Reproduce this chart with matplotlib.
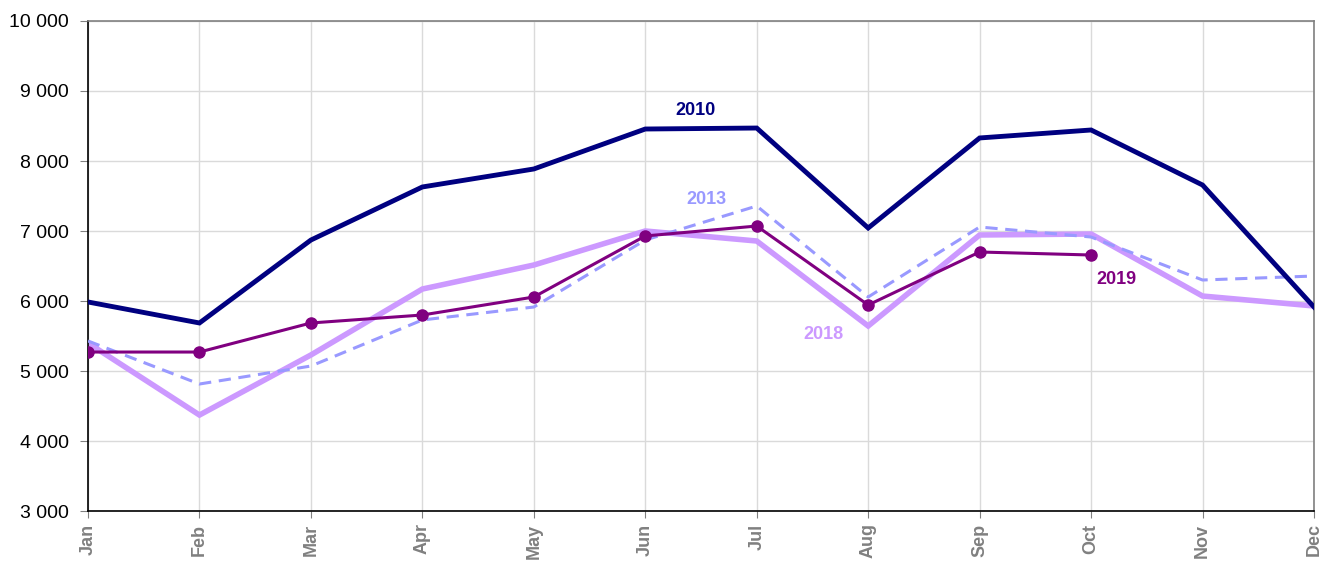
import matplotlib
matplotlib.use("Agg")
import matplotlib.pyplot as plt

months = ["Jan", "Feb", "Mar", "Apr", "May", "Jun", "Jul", "Aug", "Sep", "Oct", "Nov", "Dec"]
y2010 = [5986, 5686, 6871, 7629, 7886, 8457, 8471, 7043, 8329, 8443, 7657, 5914]
y2013 = [5429, 4814, 5071, 5729, 5914, 6871, 7357, 6057, 7057, 6914, 6300, 6357]
y2018 = [5400, 4371, 5229, 6171, 6514, 7000, 6857, 5643, 6943, 6957, 6071, 5929]
y2019 = [5271, 5271, 5686, 5800, 6057, 6929, 7071, 5943, 6700, 6657]
yticks = [3000, 4000, 5000, 6000, 7000, 8000, 9000, 10000]
ytick_labels = ["3 000", "4 000", "5 000", "6 000", "7 000", "8 000", "9 000", "10 000"]

plt.rcParams['font.family'] = ['Liberation Sans', 'DejaVu Sans']

fig = plt.figure(figsize=(13.35, 5.61), dpi=100)
ax = fig.add_axes([88/1335, 1 - 511/561, (1314-88)/1335, (511-21)/561])

x = list(range(len(months)))
ax.plot(x, y2018, color="#CC99FF", lw=4, solid_joinstyle="miter", zorder=2)
ax.plot(x, y2013, color="#9999FF", lw=2.2, ls=(0, (4, 2.5)), zorder=3)
ax.plot(x, y2010, color="#000080", lw=3.5, solid_joinstyle="miter", zorder=4)
ax.plot(x[:len(y2019)], y2019, color="#800080", lw=2.2, marker="o", ms=8, zorder=5)

ax.text(5.45, 8720, "2010", color="#000080", fontsize=13, fontweight="bold", ha="center", va="center")
ax.text(5.55, 7450, "2013", color="#9999FF", fontsize=13, fontweight="bold", ha="center", va="center")
ax.text(6.6, 5520, "2018", color="#CC99FF", fontsize=13, fontweight="bold", ha="center", va="center")
ax.text(9.23, 6300, "2019", color="#800080", fontsize=13, fontweight="bold", ha="center", va="center")

ax.set_xlim(0, 11)
ax.set_ylim(3000, 10000)
ax.set_yticks(yticks)
ax.set_yticklabels(ytick_labels, fontsize=14)
ax.set_xticks(x)
ax.set_xticklabels(months, rotation=90, fontsize=13, fontweight="bold", color="#808080")

ax.grid(True, color="#DADADA", lw=1)
ax.set_axisbelow(True)
ax.tick_params(axis="y", length=6, color="#808080", pad=8)
ax.tick_params(axis="x", length=5, color="#808080", pad=4)
ax.spines["left"].set_color("black")
ax.spines["bottom"].set_color("black")
ax.spines["top"].set_color("#808080")
ax.spines["right"].set_color("#808080")
for s in ax.spines.values():
    s.set_linewidth(1.2)

fig.savefig("out.png", dpi=100)
